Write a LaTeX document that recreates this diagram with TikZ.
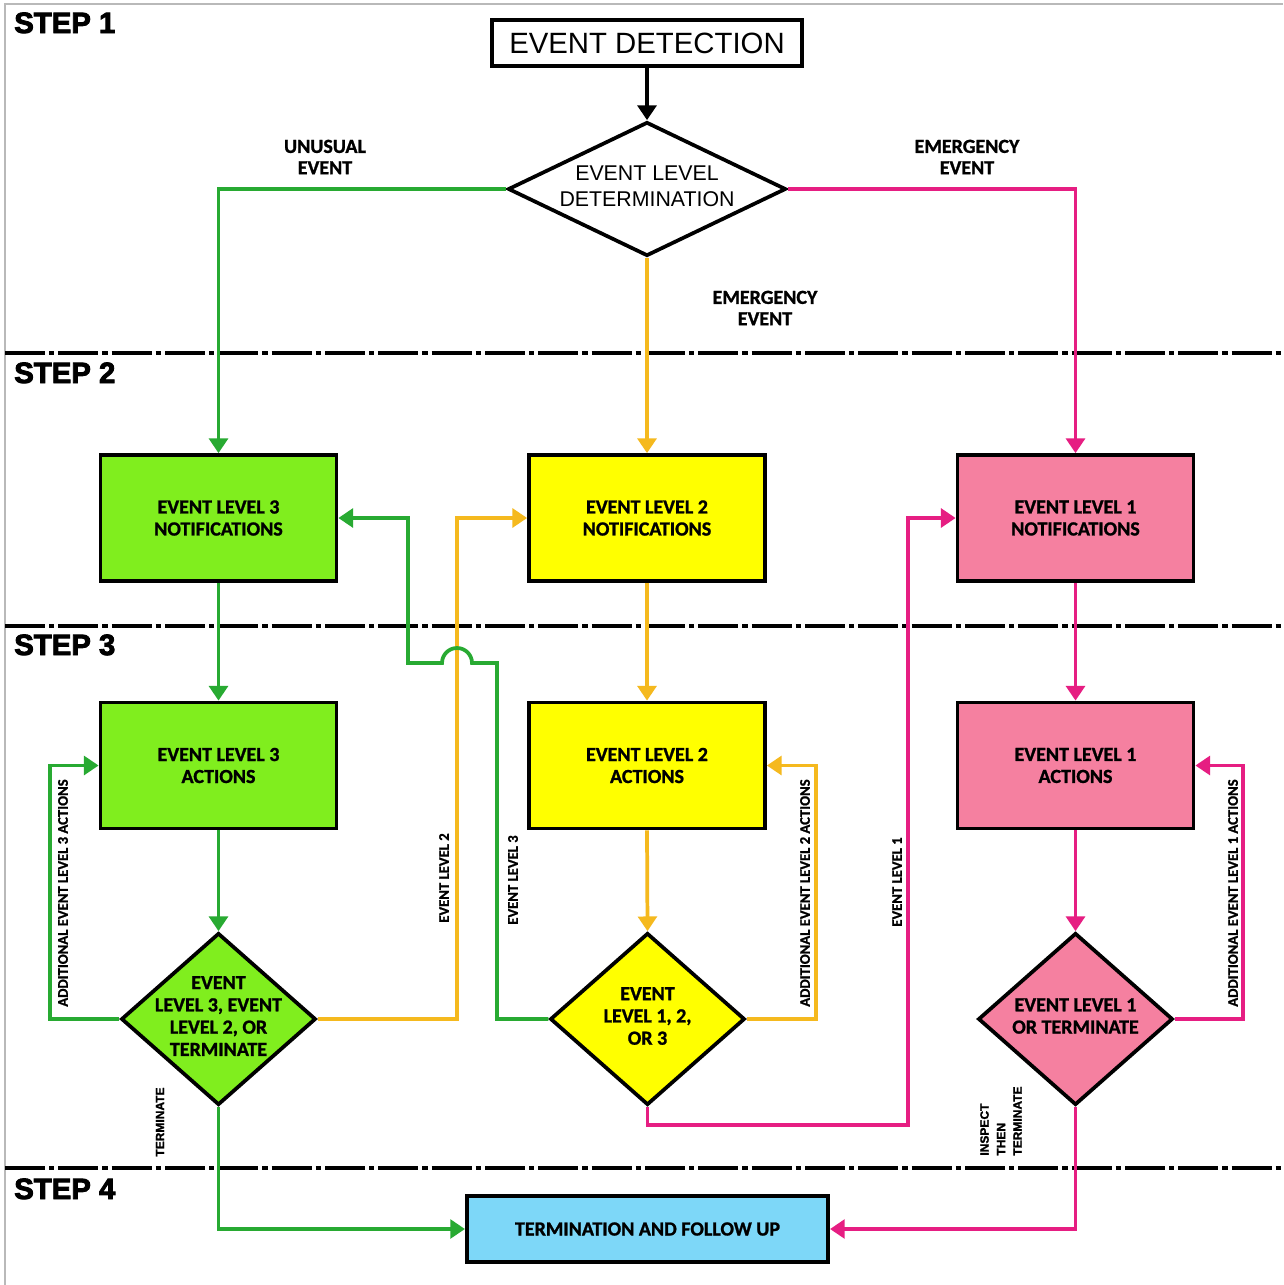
\documentclass[tikz,border=0pt]{standalone}
\usepackage{fontspec}
\setmainfont{Carlito}[BoldFeatures={FakeBold=1.2}]
\newfontfamily\arialf{Liberation Sans}[BoldFeatures={FakeBold=1.5}]
\newfontfamily\stepfont{Liberation Sans}[BoldFeatures={FakeBold=3}]
\usetikzlibrary{shapes.geometric,arrows.meta}
\definecolor{gfill}{RGB}{128,238,30}
\definecolor{gline}{RGB}{40,170,50}
\definecolor{yfill}{RGB}{255,255,0}
\definecolor{yline}{RGB}{245,185,30}
\definecolor{pfill}{RGB}{245,128,160}
\definecolor{pline}{RGB}{230,30,130}
\definecolor{bfill}{RGB}{125,215,248}
\definecolor{frame}{RGB}{185,185,185}
\begin{document}
\begin{tikzpicture}[x=0.75pt,y=-0.75pt,
  box/.style={draw=black,line width=2.8pt,minimum width=177pt,minimum height=94.5pt,
    font=\fontsize{15}{16.5}\selectfont\bfseries,align=center,inner sep=0pt},
  dia/.style={draw=black,line width=2.8pt,shape=diamond,minimum width=146pt,
    minimum height=129pt,inner sep=0pt},
  dtext/.style={font=\fontsize{15}{16.7}\selectfont\bfseries,align=center,inner sep=0pt},
  conn/.style={line width=2.8pt,-{Triangle[length=11pt,width=14pt]}},
  lab/.style={font=\fontsize{15}{16}\selectfont\bfseries,align=center,inner sep=0pt},
  rlab/.style={font=\fontsize{11}{12}\selectfont\bfseries,rotate=90,inner sep=0pt},
  alab/.style={font=\arialf\bfseries\fontsize{9}{12.4}\selectfont,rotate=90,align=left,inner sep=0pt},
  steplab/.style={font=\stepfont\bfseries\fontsize{22}{24}\selectfont,anchor=base west,inner sep=0pt},
  sep/.style={line width=2.6pt,dash pattern=on 30pt off 3pt on 4pt off 3pt}
]
\useasboundingbox (0,0) rectangle (1283,1285);
\fill[white] (0,0) rectangle (1283,1285);
\draw[frame,line width=1.2pt] (5,1285) -- (5,4) -- (1283,4);

% separators
\draw[sep] (5,353) -- (1283,353);
\draw[sep] (5,626) -- (1283,626);
\draw[sep] (5,1168) -- (1283,1168);

% step labels
\node[steplab] (s1) at (14,33) {STEP 1};
\node[steplab] (s2) at (14,383) {STEP 2};
\node[steplab] (s3) at (14,655) {STEP 3};
\node[steplab] (s4) at (14,1199) {STEP 4};

% top
\node[draw=black,line width=2.8pt,minimum width=232.5pt,minimum height=34.5pt,inner sep=0pt,
  font=\arialf\fontsize{22}{24}\selectfont] (det) at (647,43) {EVENT DETECTION};
\node[draw=black,line width=2.8pt,shape=diamond,minimum width=208.5pt,minimum height=100.5pt,inner sep=0pt] (eld) at (647,189) {};
\node[font=\arialf\fontsize{16}{19.5}\selectfont,align=center,inner sep=0pt] (eldt) at (647,186) {EVENT LEVEL\\DETERMINATION};

% boxes
\node[box,fill=gfill] (n3) at (218.5,518) {EVENT LEVEL 3\\NOTIFICATIONS};
\node[box,fill=yfill] (n2) at (647,518) {EVENT LEVEL 2\\NOTIFICATIONS};
\node[box,fill=pfill] (n1) at (1075.5,518) {EVENT LEVEL 1\\NOTIFICATIONS};
\node[box,fill=gfill] (a3) at (218.5,765.5) {EVENT LEVEL 3\\ACTIONS};
\node[box,fill=yfill] (a2) at (647,765.5) {EVENT LEVEL 2\\ACTIONS};
\node[box,fill=pfill] (a1) at (1075.5,765.5) {EVENT LEVEL 1\\ACTIONS};

% diamonds
\node[dia,fill=gfill] (d3) at (218.5,1019) {};
\node[dia,fill=yfill] (d2) at (647.5,1019) {};
\node[dia,fill=pfill] (d1) at (1075.5,1019) {};
\node[dtext] (d3t) at (218.5,1016) {EVENT\\LEVEL 3, EVENT\\LEVEL 2, OR\\TERMINATE};
\node[dtext] (d2t) at (647.5,1016) {EVENT\\LEVEL 1, 2,\\OR 3};
\node[dtext] (d1t) at (1075.5,1016) {EVENT LEVEL 1\\OR TERMINATE};

% terminate box
\node[draw=black,line width=2.8pt,fill=bfill,minimum width=271pt,minimum height=49.5pt,inner sep=0pt,
  font=\fontsize{15}{16.5}\selectfont\bfseries] (term) at (647.5,1229) {TERMINATION AND FOLLOW UP};

% top connectors
\draw[conn,black] (det) -- (eld);
\draw[conn,gline] (eld.west) -| (n3.north);
\draw[conn,pline] (eld.east) -| (n1.north);
\draw[conn,yline] (eld.south) -- (n2.north);
\node[lab] (l1) at (325,157) {UNUSUAL\\EVENT};
\node[lab] (l2) at (967,157) {EMERGENCY\\EVENT};
\node[lab] (l3) at (765,308) {EMERGENCY\\EVENT};

% vertical flows
\draw[conn,gline] (n3.south) -- (a3.north);
\draw[conn,gline] (a3.south) -- (d3.north);
\draw[conn,yline] (n2.south) -- (a2.north);
\draw[conn,yline] (a2.south) -- (d2.north);
\draw[conn,pline] (n1.south) -- (a1.north);
\draw[conn,pline] (a1.south) -- (d1.north);

% loops
\draw[conn,gline] (d3.west) -- ++(-69,0) |- (a3.west);
\draw[conn,yline] (d2.east) -- ++(69,0) |- (a2.east);
\draw[conn,pline] (d1.east) -- ++(68,0) |- (a1.east);

% cross links
\coordinate (y1) at (457,518);
\draw[conn,yline] (d3.east) -| (y1) -- (n2.west);
\coordinate (g1) at (497,663);
\coordinate (g2) at (472,663);
\coordinate (g3) at (408,663);
\draw[conn,gline] (d2.west) -| (g1) -- (g2) arc[start angle=0,end angle=180,radius=11.25pt] -- (g3) |- (n3.east);
\coordinate (p0) at (908,1125);
\coordinate (p1) at (908,518);
\draw[conn,pline] (d2.south) |- (p0) -- (p1) -- (n1.west);

% to termination
\draw[conn,gline] (d3.south) |- (term.west);
\draw[conn,pline] (d1.south) |- (term.east);

% rotated labels
\node[rlab] (r1) at (63,893) {ADDITIONAL EVENT LEVEL 3 ACTIONS};
\node[rlab] (r2) at (444,878) {EVENT LEVEL 2};
\node[rlab] (r3) at (513,880) {EVENT LEVEL 3};
\node[rlab] (r4) at (805,893) {ADDITIONAL EVENT LEVEL 2 ACTIONS};
\node[rlab] (r5) at (897,882) {EVENT LEVEL 1};
\node[rlab] (r6) at (1233,893) {ADDITIONAL EVENT LEVEL 1 ACTIONS};
\node[alab] (t1) at (160,1122) {TERMINATE};
\node[alab] (t2) at (1001,1121) {INSPECT\\THEN\\TERMINATE};
\end{tikzpicture}
\end{document}
